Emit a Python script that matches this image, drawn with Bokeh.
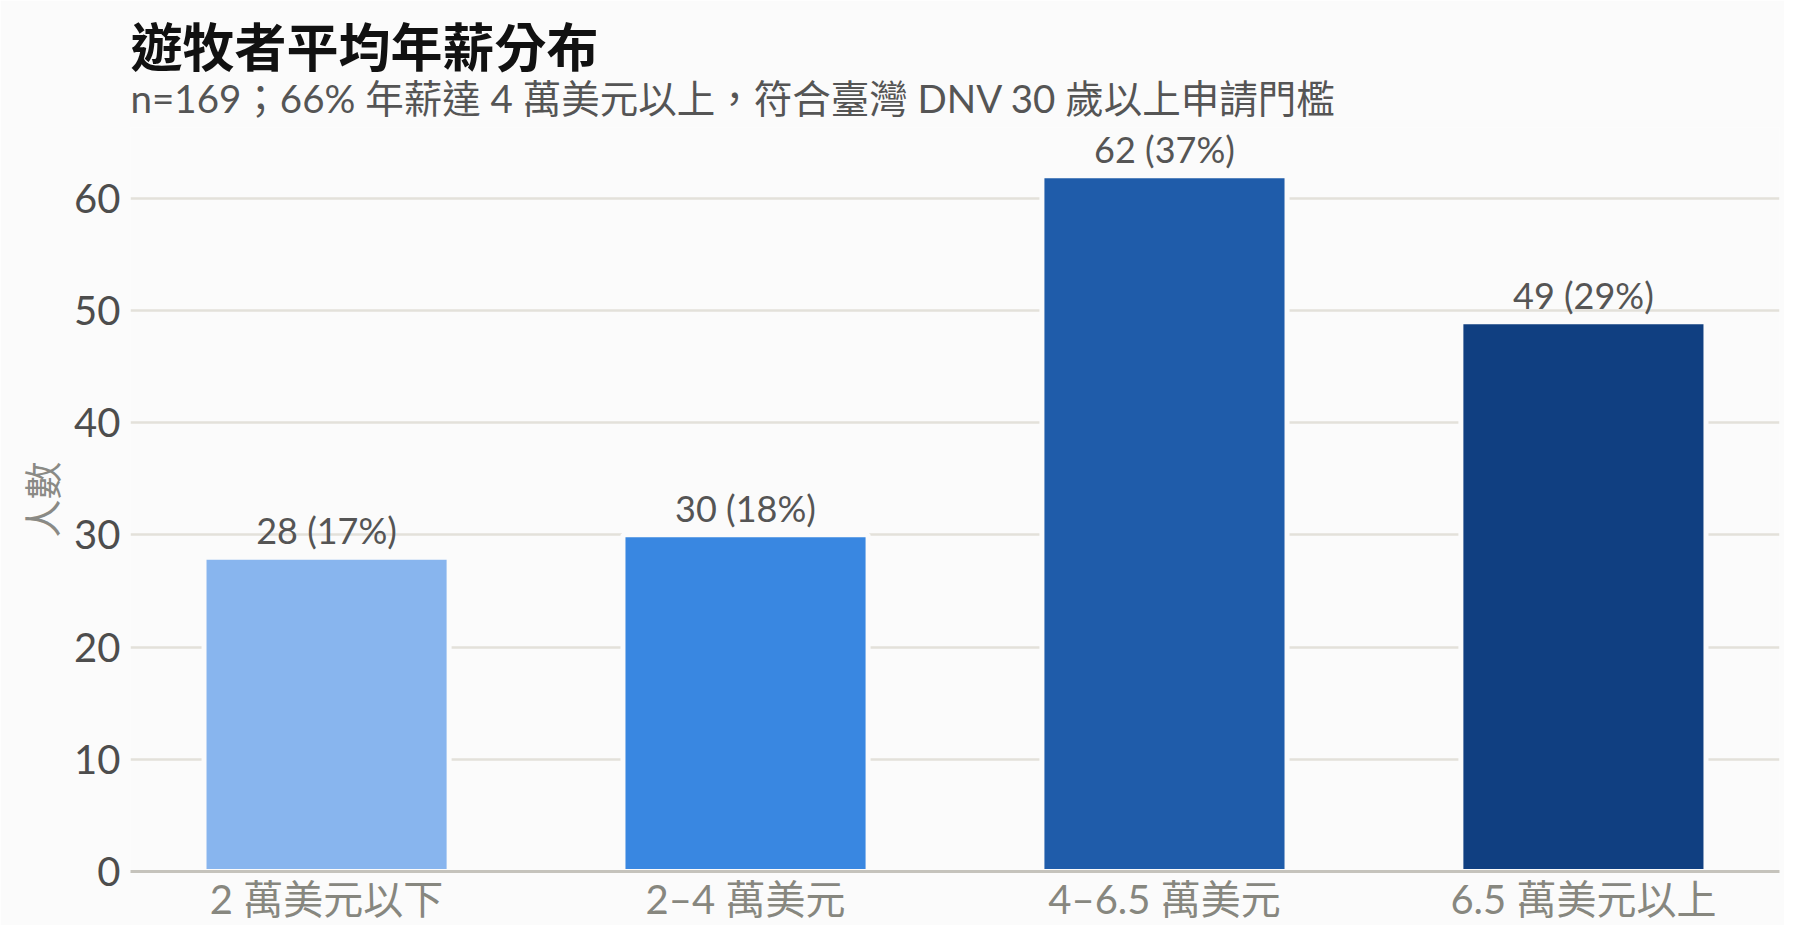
from bokeh.plotting import figure
from bokeh.models import ColumnDataSource, LabelSet, Title
from bokeh.core.properties import value
from bokeh.embed import file_html
from bokeh.resources import INLINE

# data
categories = ["2 萬美元以下", "2–4 萬美元", "4–6.5 萬美元", "6.5 萬美元以上"]
counts = [28, 30, 62, 49]
n_total = 169
bar_colors = ["#88b5ee", "#3987e1", "#1f5caa", "#103f81"]
y_ticks = [0, 10, 20, 30, 40, 50, 60]

labels = [f"{c} ({round(c * 100 / n_total)}%)" for c in counts]

bg = "#fbfbfb"
FONT = "Lato, 'Noto Sans CJK TC'"
CJK = "'Noto Sans CJK TC'"

source = ColumnDataSource(dict(cat=categories, count=counts, color=bar_colors, label=labels))

p = figure(x_range=categories, y_range=(0, 66.3), width=1784, height=925,
           title=None, toolbar_location=None, output_backend="svg",
           background_fill_color=bg, border_fill_color=bg, outline_line_color=None,
           min_border_left=130, min_border_right=5, min_border_bottom=0, min_border_top=127)
p.x_range.range_padding = -0.016

# titles: spacer first (closest to plot), then subtitle, then main title
p.add_layout(Title(text=" ", text_font_size="1px", standoff=12), "above")
p.add_layout(Title(text="n=169；66% 年薪達 4 萬美元以上，符合臺灣 DNV 30 歲以上申請門檻",
                   text_font=FONT, text_font_size="38.5px", text_font_style="normal",
                   text_color="#555555", align="left", standoff=-17), "above")
p.add_layout(Title(text="遊牧者平均年薪分布", text_font=CJK, text_font_size="52px",
                   text_font_style="bold", text_color="#111111", align="left",
                   standoff=0), "above")

p.vbar(x="cat", top="count", width=0.585, fill_color="color", line_color=bg,
       line_width=5, source=source)

p.add_layout(LabelSet(x="cat", y="count", text="label", source=source,
                      text_align="center", text_baseline="bottom", y_offset=5,
                      text_font=value(FONT), text_font_size=value("36px"),
                      text_color="#555555"))

# grid
p.xgrid.visible = False
p.ygrid.ticker = y_ticks
p.ygrid.grid_line_color = "#e3e1da"
p.ygrid.grid_line_width = 2.5

# y axis
p.yaxis.ticker = y_ticks
p.yaxis.axis_line_color = None
p.yaxis.major_tick_line_color = None
p.yaxis.minor_tick_line_color = None
p.yaxis.major_label_text_font = FONT
p.yaxis.major_label_text_font_size = "40px"
p.yaxis.major_label_text_color = "#4d4d4d"
p.yaxis.major_label_standoff = 4
p.yaxis.axis_label = "人數"
p.yaxis.axis_label_text_font = CJK
p.yaxis.axis_label_text_font_style = "normal"
p.yaxis.axis_label_text_font_size = "38px"
p.yaxis.axis_label_text_color = "#8a8a85"
p.yaxis.axis_label_standoff = 3

# x axis
p.xaxis.axis_line_color = "#c5c3bc"
p.xaxis.axis_line_width = 3
p.xaxis.major_tick_line_color = None
p.xaxis.minor_tick_line_color = None
p.xaxis.major_label_text_font = FONT
p.xaxis.major_label_text_font_size = "40px"
p.xaxis.major_label_text_color = "#87877f"
p.xaxis.major_label_standoff = -3

open("out.html", "w").write(file_html(p, INLINE))
